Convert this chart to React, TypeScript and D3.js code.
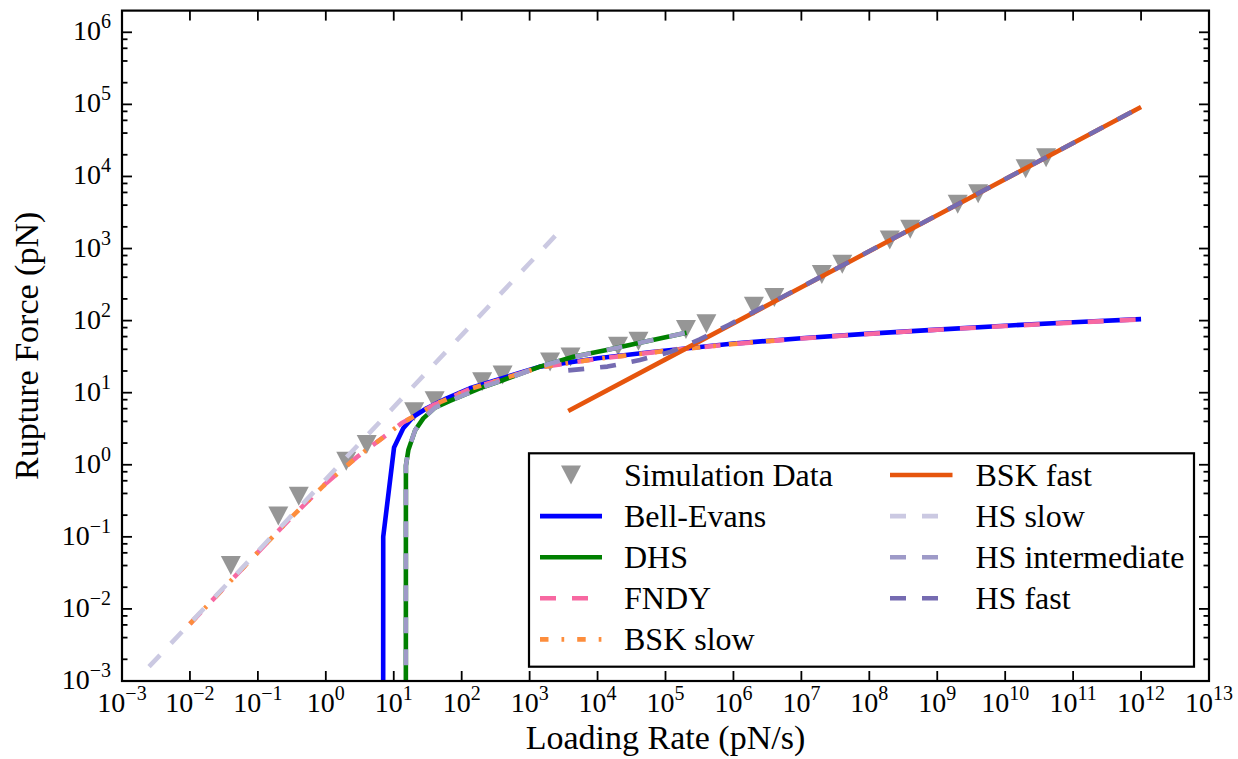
import React from 'react';
import * as d3 from 'd3';

const W = 1238;
const H = 759;
const PLOT = { left: 122, right: 1209, top: 10.6, bottom: 681 };

// ---- axis ticks ----
const xTickExps = [-3, -2, -1, 0, 1, 2, 3, 4, 5, 6, 7, 8, 9, 10, 11, 12, 13];
const yTickExps = [-3, -2, -1, 0, 1, 2, 3, 4, 5, 6];
const yMinorSubs = [2, 4, 6, 8];
const xDomain = [1e-3, 1e13];
const yDomain = [1e-3, 2e6];

// ---- data ----
const simRate = [0.04, 0.2, 0.4, 2, 4, 20, 40, 200, 400, 2e3, 4e3, 2e4, 4e4, 2e5, 4e5, 2e6, 4e6, 2e7, 4e7, 2e8, 4e8, 2e9, 4e9, 2e10, 4e10];
const simForce = [0.04, 0.195, 0.365, 1.12, 1.91, 5.45, 7.7, 14.2, 17.6, 26.7, 31.3, 44, 51.8, 75, 90.6, 158, 210, 436, 604, 1312, 1849, 4120, 5767, 12800, 18150];

const bellEvansRate = [6.98, 7.0, 10.1, 13.8, 19.4, 30.5, 60, 132, 327, 1420, 1e4, 5.9e4, 1e6, 1e7, 1e8, 1e9, 1e10, 1e11, 1e12];
const bellEvansForce = [1e-5, 0.1, 1.73, 3.2, 4.64, 6.07, 8.35, 11.5, 15.0, 23, 30, 36.3, 48, 57, 66, 75, 85, 95, 105];

const dhsRate = [15.05, 15.1, 16.4, 20.6, 27.2, 40.5, 67, 118, 208, 410, 1420, 4400, 13600, 42000, 2.04e5];
const dhsForce = [1e-5, 0.97, 1.6, 3.0, 4.4, 6.2, 7.7, 9.6, 12.0, 15, 23, 31.5, 39, 49.3, 68];

const fndyRate = [0.01, 0.03, 0.1, 0.3, 1, 3, 7, 13, 24, 38, 60, 130, 330, 1420, 1e4, 1e5, 1e6, 1e7, 1e8, 1e9, 1e10, 1e11, 1e12];
const fndyForce = [0.0062, 0.0185, 0.061, 0.18, 0.55, 1.32, 2.4, 3.76, 5.2, 6.7, 8.1, 11.2, 14.7, 22.5, 29.5, 38, 47.5, 56.5, 65.5, 74.5, 84, 94, 104];

const bskSlowRate = [0.01, 0.03, 0.1, 0.3, 1, 3, 7, 13, 24, 38, 60, 130, 330, 1420, 1e4, 1e5, 1e6, 5e6];
const bskSlowForce = [0.0062, 0.0185, 0.061, 0.18, 0.55, 1.32, 2.4, 3.76, 5.2, 6.7, 8.1, 11.2, 14.7, 22.5, 29.5, 38, 47.5, 54];

const bskFastRate = [3700, 1e5, 1e7, 1e9, 1e12];
const bskFastForce = [5.58, 29, 290, 2900, 91800];

const hsSlowRate = [0.0025, 0.01, 0.1, 1, 10, 100, 1000, 2400];
const hsSlowForce = [0.00158, 0.0063, 0.063, 0.63, 6.3, 63, 630, 1510];

const hsIntRate = [15.05, 15.1, 16.4, 20.6, 27.2, 40.5, 67, 118, 208, 410, 1420, 4400, 13600, 42000, 2.04e5];
const hsIntForce = [1e-5, 0.97, 1.6, 3.0, 4.4, 6.2, 7.7, 9.6, 12.0, 15, 23, 31.5, 39, 49.3, 68];

const hsFastRate = [3700, 1.4e4, 4.2e4, 1.2e5, 3.2e5, 8.5e5, 1e7, 1e9, 1e12];
const hsFastForce = [20.4, 23, 28.4, 37, 55, 87, 292, 2910, 92000];

const FONT = "'Liberation Serif', 'DejaVu Serif', serif";
const LW = 4.6;

const series = [
  { name: 'Bell-Evans', rate: bellEvansRate, force: bellEvansForce, color: '#0000ff', dash: null },
  { name: 'DHS', rate: dhsRate, force: dhsForce, color: '#008000', dash: null },
  { name: 'FNDY', rate: fndyRate, force: fndyForce, color: '#f768a1', dash: '16,16' },
  { name: 'BSK slow', rate: bskSlowRate, force: bskSlowForce, color: '#fd8d3c', dash: '8.5,13,2.7,13' },
  { name: 'BSK fast', rate: bskFastRate, force: bskFastForce, color: '#e6550d', dash: null },
  { name: 'HS slow', rate: hsSlowRate, force: hsSlowForce, color: '#cbc9e2', dash: '16,16' },
  { name: 'HS intermediate', rate: hsIntRate, force: hsIntForce, color: '#9e9ac8', dash: '16,16' },
  { name: 'HS fast', rate: hsFastRate, force: hsFastForce, color: '#756bb1', dash: '16,16' },
];

const TRI_COLOR = '#969696';

function triPath(cx: number, cy: number) {
  const hw = 10, hh = 9.5;
  return `M${cx - hw},${cy - hh}L${cx + hw},${cy - hh}L${cx},${cy + hh}Z`;
}

function PowLabel({ exp, x, y, anchor }: { exp: number; x: number; y: number; anchor: string }) {
  const e = exp < 0 ? `\u2212${-exp}` : `${exp}`;
  return (
    <text x={x} y={y} textAnchor={anchor} fontFamily={FONT} fontSize={28} fill="#000">
      10<tspan dy={-12} fontSize={20}>{e}</tspan>
    </text>
  );
}

export default function App() {
  const x = d3.scaleLog().domain(xDomain).range([PLOT.left, PLOT.right]);
  const y = d3.scaleLog().domain(yDomain).range([PLOT.bottom, PLOT.top]);

  const line = d3
    .line<[number, number]>()
    .x((d) => x(d[0]))
    .y((d) => y(d[1]));

  const yMinor: number[] = [];
  yTickExps.forEach((e) => {
    yMinorSubs.forEach((s) => {
      const v = s * Math.pow(10, e);
      if (v > yDomain[0] && v < yDomain[1]) yMinor.push(v);
    });
  });

  const majorLen = 10;
  const minorLen = 5.5;
  const tickW = 1.8;

  const legendBox = { x: 529, y: 453.3, w: 665, h: 213.4 };
  const rowY0 = 475;
  const rowGap = 41.1;
  const col = [
    { hx0: 540, hx1: 602, tx: 624 },
    { hx0: 890, hx1: 952.5, tx: 975.5 },
  ];
  const legendEntries = [{ name: 'Simulation Data', marker: true } as any, ...series];

  return (
    <svg width={W} height={H} style={{ position: 'absolute', left: 0, top: 0, background: '#fff' }}>
      <rect x={0} y={0} width={W} height={H} fill="#fff" />
      <defs>
        <clipPath id="plotClip">
          <rect x={PLOT.left} y={PLOT.top} width={PLOT.right - PLOT.left} height={PLOT.bottom - PLOT.top} />
        </clipPath>
      </defs>

      <g clipPath="url(#plotClip)">
        {simRate.map((r, i) => (
          <path key={'s' + i} d={triPath(x(r), y(simForce[i]))} fill={TRI_COLOR} />
        ))}
        {series.map((s) => (
          <path
            key={s.name}
            d={line(s.rate.map((r, i) => [r, s.force[i]] as [number, number])) || ''}
            fill="none"
            stroke={s.color}
            strokeWidth={LW}
            strokeDasharray={s.dash || undefined}
            strokeLinejoin="round"
          />
        ))}
      </g>

      {/* ticks */}
      <g stroke="#000" strokeWidth={tickW}>
        {xTickExps.map((e) => {
          const px = x(Math.pow(10, e));
          return (
            <g key={'xt' + e}>
              <line x1={px} x2={px} y1={PLOT.bottom} y2={PLOT.bottom - majorLen} />
              <line x1={px} x2={px} y1={PLOT.top} y2={PLOT.top + majorLen} />
            </g>
          );
        })}
        {yTickExps.map((e) => {
          const py = y(Math.pow(10, e));
          return (
            <g key={'yt' + e}>
              <line x1={PLOT.left} x2={PLOT.left + majorLen} y1={py} y2={py} />
              <line x1={PLOT.right} x2={PLOT.right - majorLen} y1={py} y2={py} />
            </g>
          );
        })}
        {yMinor.map((v, i) => {
          const py = y(v);
          return (
            <g key={'ym' + i}>
              <line x1={PLOT.left} x2={PLOT.left + minorLen} y1={py} y2={py} />
              <line x1={PLOT.right} x2={PLOT.right - minorLen} y1={py} y2={py} />
            </g>
          );
        })}
      </g>

      {/* frame */}
      <rect
        x={PLOT.left}
        y={PLOT.top}
        width={PLOT.right - PLOT.left}
        height={PLOT.bottom - PLOT.top}
        fill="none"
        stroke="#000"
        strokeWidth={2.2}
      />

      {/* tick labels */}
      {xTickExps.map((e) => (
        <PowLabel key={'xl' + e} exp={e} x={x(Math.pow(10, e))} y={712} anchor="middle" />
      ))}
      {yTickExps.map((e) => (
        <PowLabel key={'yl' + e} exp={e} x={111} y={y(Math.pow(10, e)) + 8} anchor="end" />
      ))}

      {/* axis labels */}
      <text x={(PLOT.left + PLOT.right) / 2} y={749} textAnchor="middle" fontFamily={FONT} fontSize={34}>
        Loading Rate (pN/s)
      </text>
      <text
        transform={`translate(38,${(PLOT.top + PLOT.bottom) / 2}) rotate(-90)`}
        textAnchor="middle"
        fontFamily={FONT}
        fontSize={34}
      >
        Rupture Force (pN)
      </text>

      {/* legend */}
      <rect x={legendBox.x} y={legendBox.y} width={legendBox.w} height={legendBox.h} fill="#fff" stroke="#000" strokeWidth={2.2} />
      {legendEntries.map((ent: any, i: number) => {
        const c = col[i < 5 ? 0 : 1];
        const row = i < 5 ? i : i - 5;
        const cy = rowY0 + row * rowGap;
        return (
          <g key={'lg' + i}>
            {ent.marker ? (
              <path d={triPath((c.hx0 + c.hx1) / 2, cy)} fill={TRI_COLOR} />
            ) : (
              <line
                x1={c.hx0}
                x2={c.hx1}
                y1={cy}
                y2={cy}
                stroke={ent.color}
                strokeWidth={LW}
                strokeDasharray={ent.dash || undefined}
              />
            )}
            <text x={c.tx} y={cy + 10.5} fontFamily={FONT} fontSize={32}>
              {ent.name}
            </text>
          </g>
        );
      })}
    </svg>
  );
}
